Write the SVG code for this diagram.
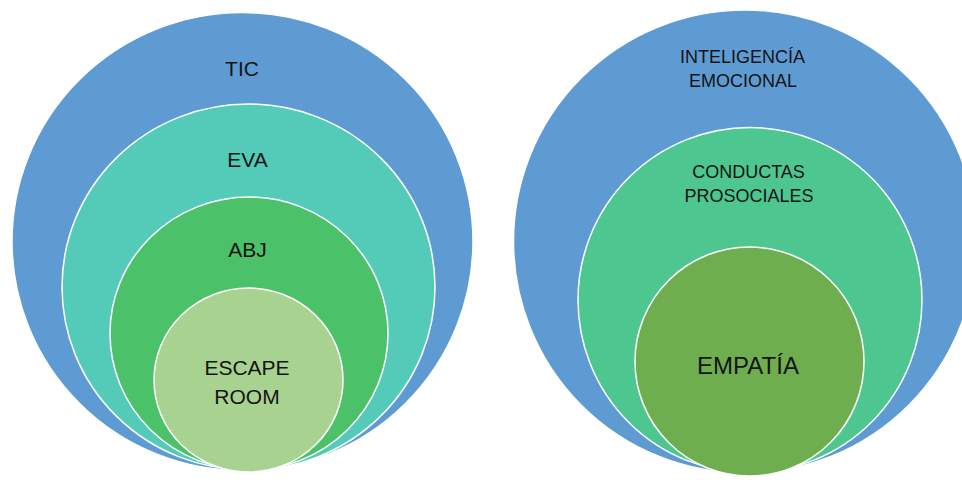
<svg xmlns="http://www.w3.org/2000/svg" width="962" height="480" viewBox="0 0 962 480">
  <style>
    .ring { stroke: #ffffff; stroke-width: 1.5; }
    .lbl { font-family: "Liberation Sans", "DejaVu Sans", sans-serif; fill: #141414; text-anchor: middle; }
    .l21 { font-size: 21px; }
    .l18 { font-size: 18px; }
    .l24 { font-size: 24px; }
  </style>
  <rect width="962" height="480" fill="#ffffff"/>

  <!-- Left stack: TIC > EVA > ABJ > ESCAPE ROOM -->
  <g id="tic">
    <ellipse cx="242.5" cy="241.5" rx="230.5" ry="229" fill="#5F9BD3" class="ring"/>
    <text class="lbl l21" x="242" y="76">TIC</text>
  </g>
  <g id="eva">
    <ellipse cx="248.5" cy="287" rx="186.5" ry="183" fill="#54CAB8" class="ring"/>
    <text class="lbl l21" x="247.5" y="167">EVA</text>
  </g>
  <g id="abj">
    <ellipse cx="249" cy="333.5" rx="139" ry="136.5" fill="#4BC26A" class="ring"/>
    <text class="lbl l21" x="247.5" y="257">ABJ</text>
  </g>
  <g id="escape-room">
    <ellipse cx="248.5" cy="380" rx="94.5" ry="92" fill="#A8D290" class="ring"/>
    <text class="lbl l21" x="247" y="375">ESCAPE</text>
    <text class="lbl l21" x="247" y="404">ROOM</text>
  </g>

  <!-- Right stack: inteligencia emocional > conductas prosociales > empatía -->
  <g id="inteligencia-emocional">
    <ellipse cx="745" cy="241.5" rx="231.5" ry="231.5" fill="#5F9BD3" class="ring"/>
    <text class="lbl l18" x="742.5" y="63">INTELIGENCÍA</text>
    <text class="lbl l18" x="743" y="87">EMOCIONAL</text>
  </g>
  <g id="conductas-prosociales">
    <ellipse cx="750" cy="300" rx="172" ry="172.5" fill="#4EC690" class="ring"/>
    <text class="lbl l18" x="748.5" y="178">CONDUCTAS</text>
    <text class="lbl l18" x="749" y="202">PROSOCIALES</text>
  </g>
  <g id="empatia">
    <ellipse cx="749.5" cy="361.5" rx="114.5" ry="114.5" fill="#6EAE4F" class="ring"/>
    <text class="lbl l24" x="748" y="374">EMPATÍA</text>
  </g>

  <g id="connectors"></g>
</svg>
